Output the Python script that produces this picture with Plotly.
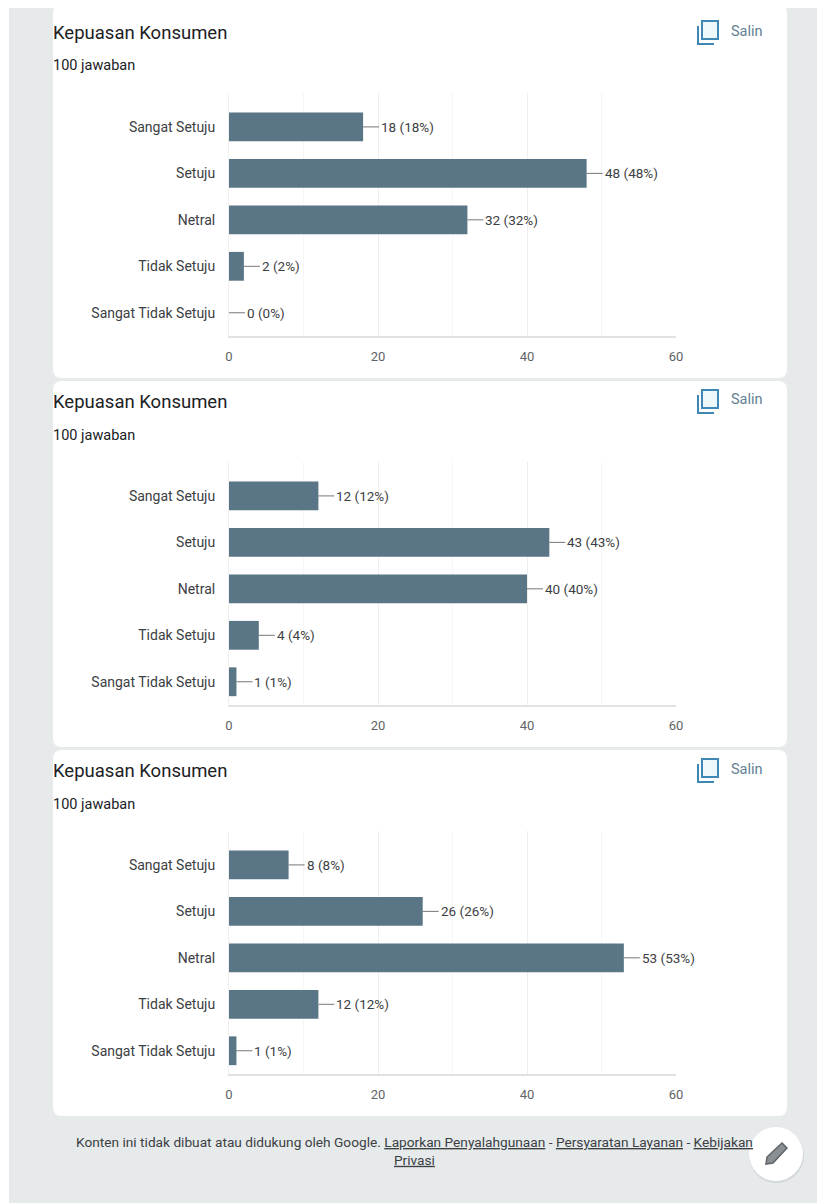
import plotly.graph_objects as go

categories = ["Sangat Setuju", "Setuju", "Netral", "Tidak Setuju", "Sangat Tidak Setuju"]
survey_a = [18, 48, 32, 2, 0]
survey_b = [12, 43, 40, 4, 1]
survey_c = [8, 26, 53, 12, 1]
tick_values = [0, 20, 40, 60]
panel_title = "Kepuasan Konsumen"
response_count = "100 jawaban"
copy_label = "Salin"

W, H = 817, 1204
BAR = "#5a7586"
PAGE = "#e6eaeb"
INK = "#3c4043"
FONT = "Roboto, Arial, sans-serif"
PANEL_STEP = 369


def fx(px):
    return px / W


def fy(py):
    return 1 - py / H


def rounded(x0, y0, x1, y1, r):
    # Card outline with rounded corners, in paper coordinates
    return (
        f"M {fx(x0 + r)} {fy(y0)} L {fx(x1 - r)} {fy(y0)} "
        f"Q {fx(x1)} {fy(y0)} {fx(x1)} {fy(y0 + r)} L {fx(x1)} {fy(y1 - r)} "
        f"Q {fx(x1)} {fy(y1)} {fx(x1 - r)} {fy(y1)} L {fx(x0 + r)} {fy(y1)} "
        f"Q {fx(x0)} {fy(y1)} {fx(x0)} {fy(y1 - r)} L {fx(x0)} {fy(y0 + r)} "
        f"Q {fx(x0)} {fy(y0)} {fx(x0 + r)} {fy(y0)} Z"
    )


fig = go.Figure()
shapes = [
    dict(type="rect", xref="paper", yref="paper", x0=fx(9), x1=1, y0=fy(1203), y1=fy(8),
         fillcolor=PAGE, line_width=0, layer="below"),
]
annotations = []
layout_axes = {}

for i, values in enumerate([survey_a, survey_b, survey_c]):
    off = PANEL_STEP * i
    suffix = "" if i == 0 else str(i + 1)
    fig.add_trace(go.Bar(
        x=values, y=categories, orientation="h", width=0.62,
        marker=dict(color=BAR, line_width=0),
        xaxis=f"x{suffix}", yaxis=f"y{suffix}",
        showlegend=False, hoverinfo="skip",
    ))
    layout_axes[f"xaxis{suffix}"] = dict(
        domain=[fx(229), fx(676)], range=[0, 60], anchor=f"y{suffix}",
        tickvals=tick_values, ticks="outside", ticklen=7, tickcolor="rgba(0,0,0,0)",
        tickfont=dict(size=13, color="#5f6368", family=FONT),
        showgrid=True, gridcolor="#eeeeee", gridwidth=1,
        minor=dict(dtick=10, showgrid=True, gridcolor="#f6f6f6", gridwidth=1),
        showline=True, linecolor="#e2e2e2", linewidth=2, zeroline=False,
    )
    layout_axes[f"yaxis{suffix}"] = dict(
        domain=[fy(336 + off), fy(93 + off)], range=[4.5, -0.73], type="category",
        categoryorder="array", categoryarray=categories, anchor=f"x{suffix}",
        ticks="outside", ticklen=10, tickcolor="rgba(0,0,0,0)",
        tickfont=dict(size=14, color=INK, family=FONT),
        showgrid=False, showline=True, linecolor="#f0f0f0", linewidth=1, zeroline=False,
    )

    # Card, heading and copy control
    top = 4 if i == 0 else 10 + off + 2
    shapes.append(dict(type="path", xref="paper", yref="paper", layer="below",
                       path=rounded(53, top, 787, 378 + off if i < 2 else 1116, 9),
                       fillcolor="white", line_width=0))
    annotations += [
        dict(xref="paper", yref="paper", x=fx(51), y=fy(33 + off), text=panel_title, showarrow=False,
             xanchor="left", yanchor="middle", font=dict(size=18.5, color="#202124", family=FONT)),
        dict(xref="paper", yref="paper", x=fx(51), y=fy(66 + off), text=response_count, showarrow=False,
             xanchor="left", yanchor="middle", font=dict(size=14.5, color="#202124", family=FONT)),
        dict(xref="paper", yref="paper", x=fx(729), y=fy(31 + off), text=copy_label, showarrow=False,
             xanchor="left", yanchor="middle", font=dict(size=14.5, color="#5f7f93", family=FONT)),
    ]
    shapes += [
        dict(type="rect", xref="paper", yref="paper", x0=fx(702), x1=fx(718), y0=fy(39 + off), y1=fy(21 + off),
             line=dict(color="#3f87b5", width=2), fillcolor="#eef8fb"),
        dict(type="path", xref="paper", yref="paper",
             path=f"M {fx(698)} {fy(26 + off)} L {fx(698)} {fy(44 + off)} L {fx(714)} {fy(44 + off)}",
             line=dict(color="#3f87b5", width=2)),
    ]

    # Value labels joined to each bar by a short leader
    for cat, v in zip(categories, values):
        annotations.append(dict(
            xref=f"x{suffix}", yref=f"y{suffix}", x=v, y=cat,
            text=f"{v} ({v}%)", showarrow=True, arrowhead=0, arrowwidth=1, arrowcolor="#777777",
            ax=16, ay=0, xanchor="left", yanchor="middle", standoff=0, startstandoff=0,
            font=dict(size=13.5, color=INK, family=FONT),
        ))

# Footer with legal links
annotations.append(dict(
    xref="paper", yref="paper", x=fx(414), y=fy(1151),
    text=("Konten ini tidak dibuat atau didukung oleh Google. <u>Laporkan Penyalahgunaan</u> - "
          "<u>Persyaratan Layanan</u> - <u>Kebijakan</u><br><u>Privasi</u>"),
    showarrow=False, xanchor="center", yanchor="middle", align="center",
    font=dict(size=13.7, color="#3c4043", family=FONT),
))

# Floating edit button with a pencil
shapes += [
    dict(type="circle", xref="paper", yref="paper", x0=fx(749), x1=fx(804), y0=fy(1183), y1=fy(1128),
         fillcolor="#d3d8da", line_width=0),
    dict(type="circle", xref="paper", yref="paper", x0=fx(749), x1=fx(803), y0=fy(1181), y1=fy(1127),
         fillcolor="white", line_width=0),
    dict(type="path", xref="paper", yref="paper",
         path=(f"M {fx(766)} {fy(1164)} L {fx(767)} {fy(1157)} L {fx(782)} {fy(1143)} "
               f"L {fx(787)} {fy(1148)} L {fx(773)} {fy(1163)} Z"),
         fillcolor="#8a8f93", line=dict(color="#5f6368", width=1.5)),
]

fig.update_layout(
    width=W, height=H, margin=dict(l=0, r=0, t=0, b=0, autoexpand=False),
    paper_bgcolor="white", plot_bgcolor="rgba(0,0,0,0)",
    barmode="overlay", shapes=shapes, annotations=annotations,
    font=dict(family=FONT), **layout_axes,
)
fig.write_html("out.html", config={"displayModeBar": False})
